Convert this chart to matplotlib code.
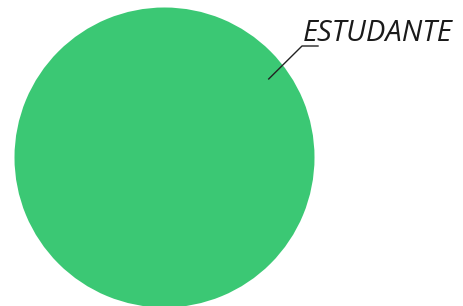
import numpy as np
import matplotlib.pyplot as plt

# Data
labels = ["ESTUDANTE"]
values = [100]
colors = ["#3BC874"]

fig = plt.figure(figsize=(4.64, 3.06), dpi=100)
ax = fig.add_axes([0, 0, 1, 1])

center = (164.5, 157.5)
radius = 150
ax.pie(values, colors=colors, center=center, radius=radius,
       startangle=90, wedgeprops=dict(linewidth=0))

# work in pixel coordinates (y down)
ax.set_aspect("auto")
ax.set_xlim(0, 464)
ax.set_ylim(306, 0)
ax.axis("off")

# leader line + label
ang = np.deg2rad(-37)
r_in = radius * 0.87
x0 = center[0] + r_in * np.cos(ang)
y0 = center[1] + r_in * np.sin(ang)
ax.plot([x0, 302, 318], [y0, 46, 46], color="#222222", lw=1.0)
ax.text(303, 41, labels[0], fontsize=21, style="italic",
        family="Open Sans", color="#1a1a1a", ha="left", va="baseline")

fig.savefig("out.png", dpi=100)
